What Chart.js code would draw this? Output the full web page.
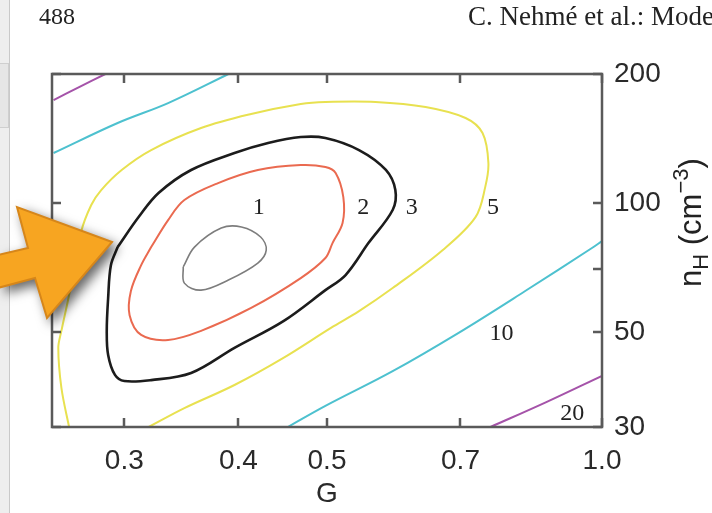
<!DOCTYPE html>
<html>
<head>
<meta charset="utf-8">
<script src="https://cdn.jsdelivr.net/npm/chart.js@4.4.1/dist/chart.umd.min.js"></script>
<style>
  body { margin: 0; background: #fff; }
  #page { position: relative; width: 712px; height: 513px; overflow: hidden; }
  #contourChart { position: absolute; left: 0; top: 0; }
  .side { position: absolute; left: 0; top: 0; width: 9px; height: 513px; background: #eeeeee; border-right: 1px solid #c9c9c9; }
  .side .tab { position: absolute; left: 0; top: 63px; width: 8px; height: 63px; background: #e6e6e6; border: 1px solid #cfcfcf; border-left: none; }
  .head { position: absolute; font-family: "Liberation Serif", serif; color: #222; white-space: nowrap; }
  #arrow { position: absolute; left: 0; top: 0; filter: drop-shadow(5px 5px 6px rgba(0,0,0,0.6)); }
</style>
</head>
<body>
<div id="page">
  <canvas id="contourChart" width="712" height="513"></canvas>
  <div class="side"><div class="tab"></div></div>
  <div class="head" style="left:39px; top:3px; font-size:24px">488</div>
  <div class="head" style="left:468px; top:1px; font-size:27px">C. Nehmé et al.: Mode</div>
  <svg id="arrow" width="140" height="340">
    <polygon points="112,242 47,318 35,278 -6,289 -6,256 28,248 17,207"
             fill="#f7a521" stroke="#d6861a" stroke-width="2" stroke-linejoin="miter"/>
  </svg>
</div>
<script>
// axis ticks
const xTicks = [0.3, 0.4, 0.5, 0.7, 1.0];
const yTicks = [30, 50, 70, 100, 200];

// contour lines, [G, nH] pairs
const level1 = [[0.348, 70.9], [0.358, 78.9], [0.383, 87.4], [0.403, 87.9], [0.423, 83.3], [0.429, 77.6],
  [0.420, 72.4], [0.390, 66.1], [0.364, 62.6], [0.349, 65.0], [0.348, 70.9]];
const level2 = [[0.321, 78.9], [0.335, 91.2], [0.349, 101.6], [0.380, 111.3], [0.420, 119.4], [0.468, 122.6],
  [0.498, 121.3], [0.511, 117.5], [0.521, 103.2], [0.520, 89.8], [0.507, 80.6], [0.498, 74.4], [0.468, 66.8],
  [0.413, 56.9], [0.364, 50.3], [0.335, 47.9], [0.313, 49.2], [0.304, 54.7], [0.305, 62.3], [0.313, 71.6], [0.321, 78.9]];
const level3 = [[0.295, 78.9], [0.311, 92.7], [0.327, 105.5], [0.355, 119.4], [0.396, 130.8], [0.431, 138.0],
  [0.468, 142.5], [0.498, 141.8], [0.542, 132.9], [0.580, 119.4], [0.594, 107.2], [0.590, 96.3], [0.555, 80.6],
  [0.524, 67.9], [0.498, 62.6], [0.448, 53.0], [0.396, 45.9], [0.355, 40.1], [0.321, 38.6], [0.300, 38.4],
  [0.293, 39.7], [0.288, 44.2], [0.287, 50.3], [0.288, 60.0], [0.290, 71.6], [0.295, 78.9]];
const level5 = [[0.261, 30.0], [0.256, 37.0], [0.254, 45.9], [0.256, 50.3], [0.261, 61.0], [0.269, 85.5],
  [0.276, 98.9], [0.283, 107.2], [0.298, 119.4], [0.321, 132.9], [0.364, 149.6], [0.413, 161.3], [0.468, 170.2],
  [0.498, 172.1], [0.565, 172.1], [0.641, 167.5], [0.709, 157.9], [0.740, 145.6], [0.751, 123.9], [0.745, 108.9],
  [0.727, 92.7], [0.669, 77.6], [0.590, 63.3], [0.542, 55.9], [0.505, 51.1], [0.448, 43.5], [0.396, 37.6],
  [0.349, 33.2], [0.319, 30.0]];
const level10a = [[0.251, 130.8], [0.295, 153.7], [0.335, 171.1], [0.390, 200]];
const level10b = [[0.453, 30.0], [0.498, 33.6], [0.590, 40.5], [0.696, 49.7], [0.824, 62.3], [0.975, 78.5], [1.0, 81.5]];
const level20a = [[0.251, 173.9], [0.268, 186.6], [0.286, 200]];
const level20b = [[0.755, 30.0], [0.869, 34.3], [1.0, 39.5]];

// level labels and where they sit
const levelNames = ['1', '2', '3', '5', '10', '20'];
const labelPos = [[0.421, 97.3], [0.548, 97.3], [0.619, 97.3], [0.760, 97.3], [0.776, 49.5], [0.928, 32.3]];

const pts = arr => arr.map(([x, y]) => ({ x, y }));

function line(data, color, width) {
    return {
        data: pts(data),
        borderColor: color,
        borderWidth: width,
        showLine: true,
        pointRadius: 0,
        tension: 0.35,
        fill: false
    };
}

// box round the plot with inward ticks on every side
const framePlugin = {
    id: 'frame',
    afterDatasetsDraw(chart) {
        const { ctx, chartArea: a, scales: { x, y } } = chart;
        ctx.save();
        ctx.strokeStyle = '#5a5a5a';
        ctx.lineWidth = 2.5;
        ctx.strokeRect(a.left, a.top, a.right - a.left, a.bottom - a.top);
        ctx.beginPath();
        xTicks.forEach(v => {
            const px = Math.round(x.getPixelForValue(v));
            ctx.moveTo(px, a.bottom); ctx.lineTo(px, a.bottom - 9);
            ctx.moveTo(px, a.top); ctx.lineTo(px, a.top + 9);
        });
        yTicks.forEach(v => {
            const py = Math.round(y.getPixelForValue(v));
            ctx.moveTo(a.left, py); ctx.lineTo(a.left + 9, py);
            ctx.moveTo(a.right, py); ctx.lineTo(a.right - 9, py);
        });
        ctx.stroke();
        ctx.restore();
    }
};

const labelPlugin = {
    id: 'contourLabels',
    afterDatasetsDraw(chart) {
        const { ctx, scales: { x, y } } = chart;
        ctx.save();
        ctx.font = '24px "Liberation Serif"';
        ctx.fillStyle = '#222';
        ctx.textAlign = 'center';
        ctx.textBaseline = 'middle';
        levelNames.forEach((t, i) => {
            ctx.fillText(t, x.getPixelForValue(labelPos[i][0]), y.getPixelForValue(labelPos[i][1]));
        });
        ctx.restore();
    }
};

// n_H (cm^-3) written upwards beside the right axis
const yTitlePlugin = {
    id: 'yTitle',
    afterDraw(chart) {
        const ctx = chart.ctx;
        const big = '31px "Liberation Sans"';
        const small = '22px "Liberation Sans"';
        const parts = [
            ['n', big, 0],
            ['H', small, 7],
            [' (cm', big, 0],
            ['\u22123', small, -13],
            [')', big, 0]
        ];
        ctx.save();
        ctx.translate(701, 287);
        ctx.rotate(-Math.PI / 2);
        ctx.fillStyle = '#222';
        ctx.textBaseline = 'alphabetic';
        let pos = 0;
        parts.forEach(([t, f, dy]) => {
            ctx.font = f;
            ctx.fillText(t, pos, dy);
            pos += ctx.measureText(t).width;
        });
        ctx.restore();
    }
};

new Chart(document.getElementById('contourChart').getContext('2d'), {
    type: 'scatter',
    data: {
        datasets: [
            line(level1, '#7d7d7d', 1.6),
            line(level2, '#ea6a50', 2),
            line(level3, '#1c1c1c', 2.6),
            line(level5, '#e8e150', 2),
            line(level10a, '#4dc1cf', 2),
            line(level10b, '#4dc1cf', 2),
            line(level20a, '#a553a9', 2),
            line(level20b, '#a553a9', 2)
        ]
    },
    options: {
        responsive: false,
        animation: false,
        layout: { padding: { left: 52, top: 74, right: 0, bottom: 0 } },
        plugins: { legend: { display: false }, tooltip: { enabled: false } },
        scales: {
            x: {
                type: 'logarithmic',
                position: 'bottom',
                min: 0.25,
                max: 1.0,
                afterBuildTicks: s => { s.ticks = xTicks.map(v => ({ value: v })); },
                afterFit: s => { s.height = 86; },
                grid: { display: false, drawTicks: false },
                border: { display: false },
                ticks: {
                    padding: 17,
                    maxRotation: 0,
                    autoSkip: false,
                    color: '#2a2a2a',
                    font: { family: 'Liberation Sans', size: 28 },
                    callback: v => v.toFixed(1)
                },
                title: {
                    display: true,
                    text: 'G',
                    color: '#2a2a2a',
                    padding: { top: 0, bottom: 2 },
                    font: { family: 'Liberation Sans', size: 28 }
                }
            },
            y: {
                type: 'logarithmic',
                position: 'right',
                min: 30,
                max: 200,
                afterBuildTicks: s => { s.ticks = yTicks.map(v => ({ value: v })); },
                afterFit: s => { s.width = 110; },
                grid: { display: false, drawTicks: false },
                border: { display: false },
                ticks: {
                    padding: 12,
                    autoSkip: false,
                    color: '#2a2a2a',
                    font: { family: 'Liberation Sans', size: 28 },
                    callback: v => (v === 70 ? '' : String(v))
                }
            }
        }
    },
    plugins: [framePlugin, labelPlugin, yTitlePlugin]
});
</script>
</body>
</html>
